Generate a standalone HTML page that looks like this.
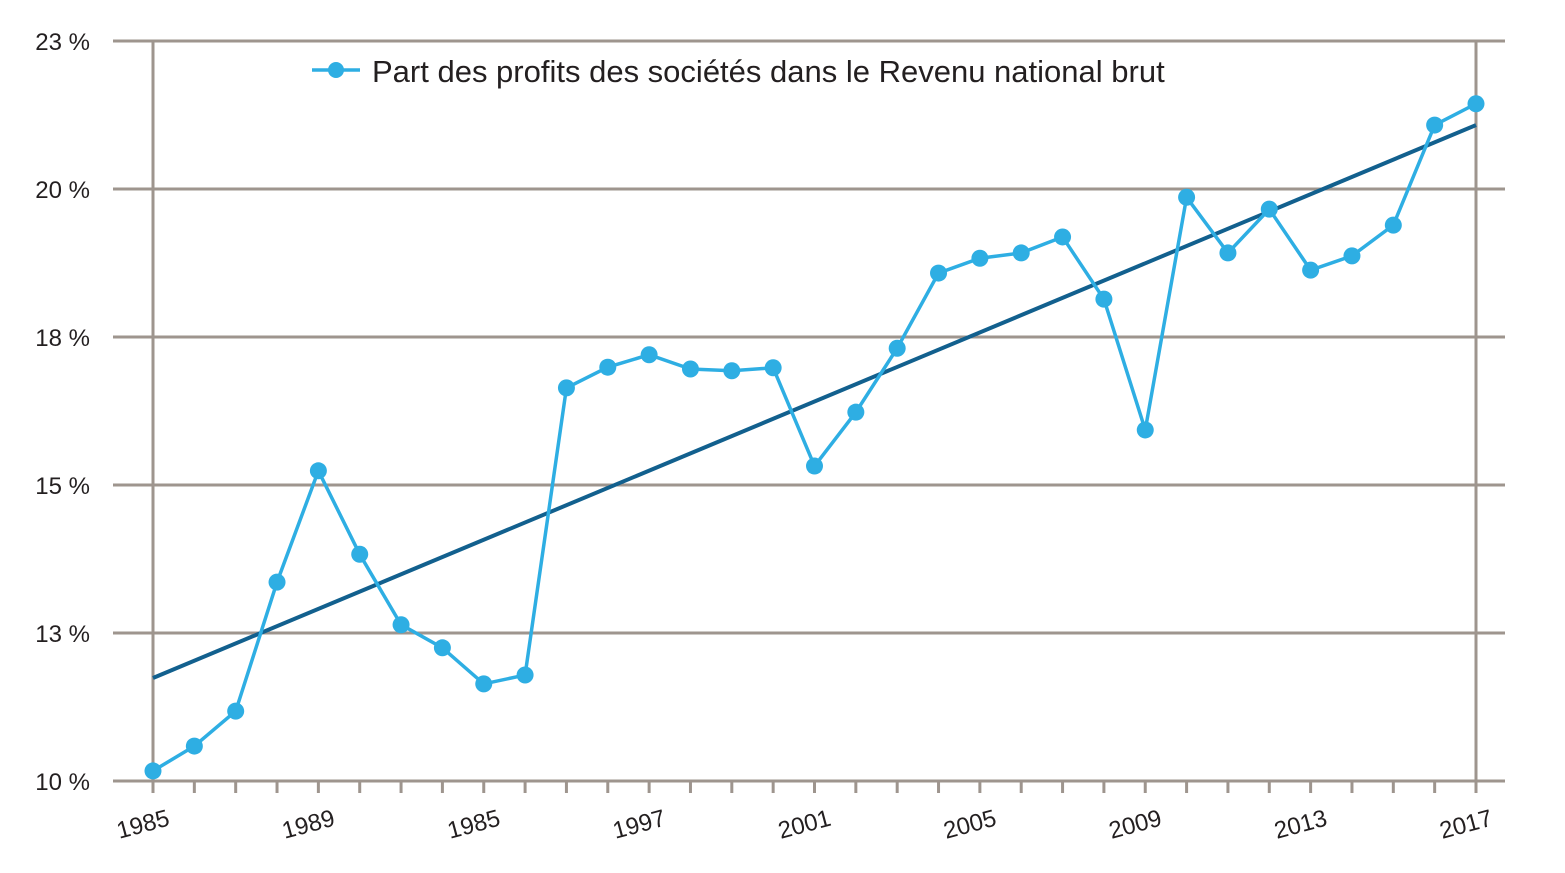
<!DOCTYPE html>
<html><head><meta charset="utf-8"><style>
body{margin:0;background:#fff}
svg text{font-family:"Liberation Sans",sans-serif;fill:#231f20}
</style></head><body>
<svg id="chart" width="1565" height="868" xmlns="http://www.w3.org/2000/svg">
<g id="grid"></g>
<g id="axes"></g>
<g id="series"></g>
<g>
<line x1="312" y1="70" x2="360" y2="70" stroke="#2eaee3" stroke-width="3.5"/>
<circle cx="336" cy="70" r="8" fill="#2eaee3"/>
<text x="372" y="82" font-size="31">Part des profits des sociétés dans le Revenu national brut</text>
</g>
</svg>
<script>
const years=[1985,1986,1987,1988,1989,1990,1991,1992,1993,1994,1995,1996,1997,1998,1999,2000,2001,2002,2003,2004,2005,2006,2007,2008,2009,2010,2011,2012,2013,2014,2015,2016,2017];
const values=[10.17,10.59,11.18,13.36,15.24,13.83,12.64,12.25,11.64,11.79,16.64,16.99,17.20,16.96,16.93,16.98,15.32,16.23,17.31,18.58,18.83,18.92,19.19,18.14,15.93,19.86,18.92,19.66,18.63,18.87,19.39,21.08,21.44];
const trendValues=[11.74,21.08];
const yTicks=[10,12.5,15,17.5,20,22.5];
const yTickLabels=["10 %","13 %","15 %","18 %","20 %","23 %"];
const xTickYears=[1985,1989,1993,1997,2001,2005,2009,2013,2017];
const xTickLabels=["1985","1989","1985","1997","2001","2005","2009","2013","2017"];
const NS="http://www.w3.org/2000/svg";
const x=y=>153+(y-1985)*(1476-153)/32;
const yS=v=>781-(v-10)*59.2;
function mk(tag,attrs,parent,text){const e=document.createElementNS(NS,tag);for(const k in attrs)e.setAttribute(k,attrs[k]);if(text!==undefined)e.textContent=text;parent.appendChild(e);return e;}
const grid=document.getElementById('grid'),axes=document.getElementById('axes'),series=document.getElementById('series');
const gc="#9e958e";
yTicks.forEach((t,i)=>{
 const l=mk('line',{x1:113,x2:1505,y1:yS(t),y2:yS(t),stroke:gc,'stroke-width':3},grid);
 
 
 const tx=mk('text',{x:90,y:yS(t)+9,'font-size':24,'text-anchor':'end'},axes,yTickLabels[i]);
 
 
});
[1985,2017].forEach(yr=>{
 const l=mk('line',{x1:x(yr),x2:x(yr),y1:42,y2:781,stroke:gc,'stroke-width':3},grid);
 
 
});
years.forEach(yr=>{
 const l=mk('line',{x1:x(yr),x2:x(yr),y1:781,y2:793,stroke:gc,'stroke-width':3},axes);
 
 
});
xTickYears.forEach((yr,i)=>{
 const tx=mk('text',{x:0,y:0,'font-size':24,'text-anchor':'middle',transform:`translate(${x(yr)-8},${832}) rotate(-15)`},axes,xTickLabels[i]);
 
 
});
const tl=mk('line',{x1:x(years[0]),y1:yS(trendValues[0]),x2:x(years[years.length-1]),y2:yS(trendValues[1]),stroke:'#12608e','stroke-width':4},series);


const pl=mk('polyline',{points:years.map((yr,i)=>x(yr)+','+yS(values[i])).join(' '),fill:'none',stroke:'#2eaee3','stroke-width':3.5},series);


years.forEach((yr,i)=>{
 const c=mk('circle',{cx:x(yr),cy:yS(values[i]),r:8.5,fill:'#2eaee3'},series);
 
 
});
</script>
</body></html>
